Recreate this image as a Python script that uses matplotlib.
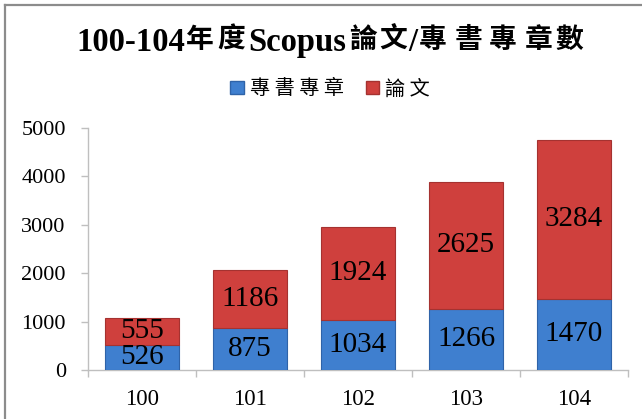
import matplotlib
matplotlib.use("Agg")
import matplotlib.pyplot as plt
from matplotlib.lines import Line2D
from matplotlib.patches import Patch

categories = ["100", "101", "102", "103", "104"]
books = [526, 875, 1034, 1266, 1470]      # 專書專章
papers = [555, 1186, 1924, 2625, 3284]    # 論文
series_names = ["專書專章", "論文"]
yticks = [0, 1000, 2000, 3000, 4000, 5000]
title_parts = ["100-104", "年", "度", "Scopus", "論", "文", "/", "專", "書", "專", "章", "數"]

BLUE = "#3F7FCF"
BLUE_EDGE = "#2F63A8"
RED = "#CF403D"
RED_EDGE = "#A53230"
SERIF = "Liberation Serif"
CJK = "Noto Sans CJK TC"

W, H = 642, 419
fig = plt.figure(figsize=(W / 100, H / 100), dpi=100)
fig.patch.set_facecolor("white")

ax = fig.add_axes([88 / W, 1 - 370 / H, 540 / W, 242 / H])
x = list(range(len(categories)))
b1 = ax.bar(x, books, width=0.68, color=BLUE, edgecolor=BLUE_EDGE, linewidth=0.8, zorder=3)
b2 = ax.bar(x, papers, width=0.68, bottom=books, color=RED, edgecolor=RED_EDGE, linewidth=0.8, zorder=3)
for c in (b1, b2):
    ax.bar_label(c, label_type="center", fontsize=21, family=SERIF, color="black")

ax.set_xlim(-0.5, len(categories) - 0.5)
ax.set_ylim(0, 5000)
ax.set_yticks(yticks)
ax.set_yticklabels([str(v) for v in yticks], family=SERIF, fontsize=16)
ax.set_xticks(x)
ax.set_xticklabels(categories, family=SERIF, fontsize=16.5)
ax.set_xticks([i - 0.5 for i in range(len(categories) + 1)], minor=True)
ax.tick_params(axis="x", which="major", length=0, pad=14)
ax.tick_params(axis="x", which="minor", length=5, color="#BFBFBF", width=1)
ax.tick_params(axis="y", length=5, color="#BFBFBF", width=1, pad=11)
for s in ("top", "right"):
    ax.spines[s].set_visible(False)
for s in ("left", "bottom"):
    ax.spines[s].set_color("#BFBFBF")
    ax.spines[s].set_linewidth(1)

# Title: each fragment placed at its slot centre (pixels)
centers = [131, 200, 231, 297, 363, 393, 413, 433, 468, 503, 539, 569]
for part, cx in zip(title_parts, centers):
    if part.isascii():
        fig.text(cx / W, 1 - 51 / H, part, family=SERIF, fontsize=23.5, weight="bold",
                 ha="center", va="baseline")
    else:
        fig.text(cx / W, 1 - 40 / H, part, family=CJK, fontsize=20, weight="bold",
                 ha="center", va="center")

handles = [Patch(facecolor=BLUE, edgecolor=BLUE_EDGE), Patch(facecolor=RED, edgecolor=RED_EDGE)]
labels = [" ".join(n) for n in series_names]
fig.legend(handles, labels, loc="center", bbox_to_anchor=(330 / W, 1 - 89 / H), ncol=2,
           frameon=False, prop={"family": CJK, "size": 14.5}, handlelength=0.65, handleheight=0.65,
           handletextpad=0.3, columnspacing=1.1, borderpad=0, borderaxespad=0)

# figure border (top and left visible)
fig.add_artist(Line2D([5 / W, 5 / W], [0, 1 - 5 / H], transform=fig.transFigure, color="#8C8C8C", lw=1.6))
fig.add_artist(Line2D([5 / W, 1], [1 - 5 / H, 1 - 5 / H], transform=fig.transFigure, color="#8C8C8C", lw=1.6))

fig.savefig("out.png", dpi=100)
